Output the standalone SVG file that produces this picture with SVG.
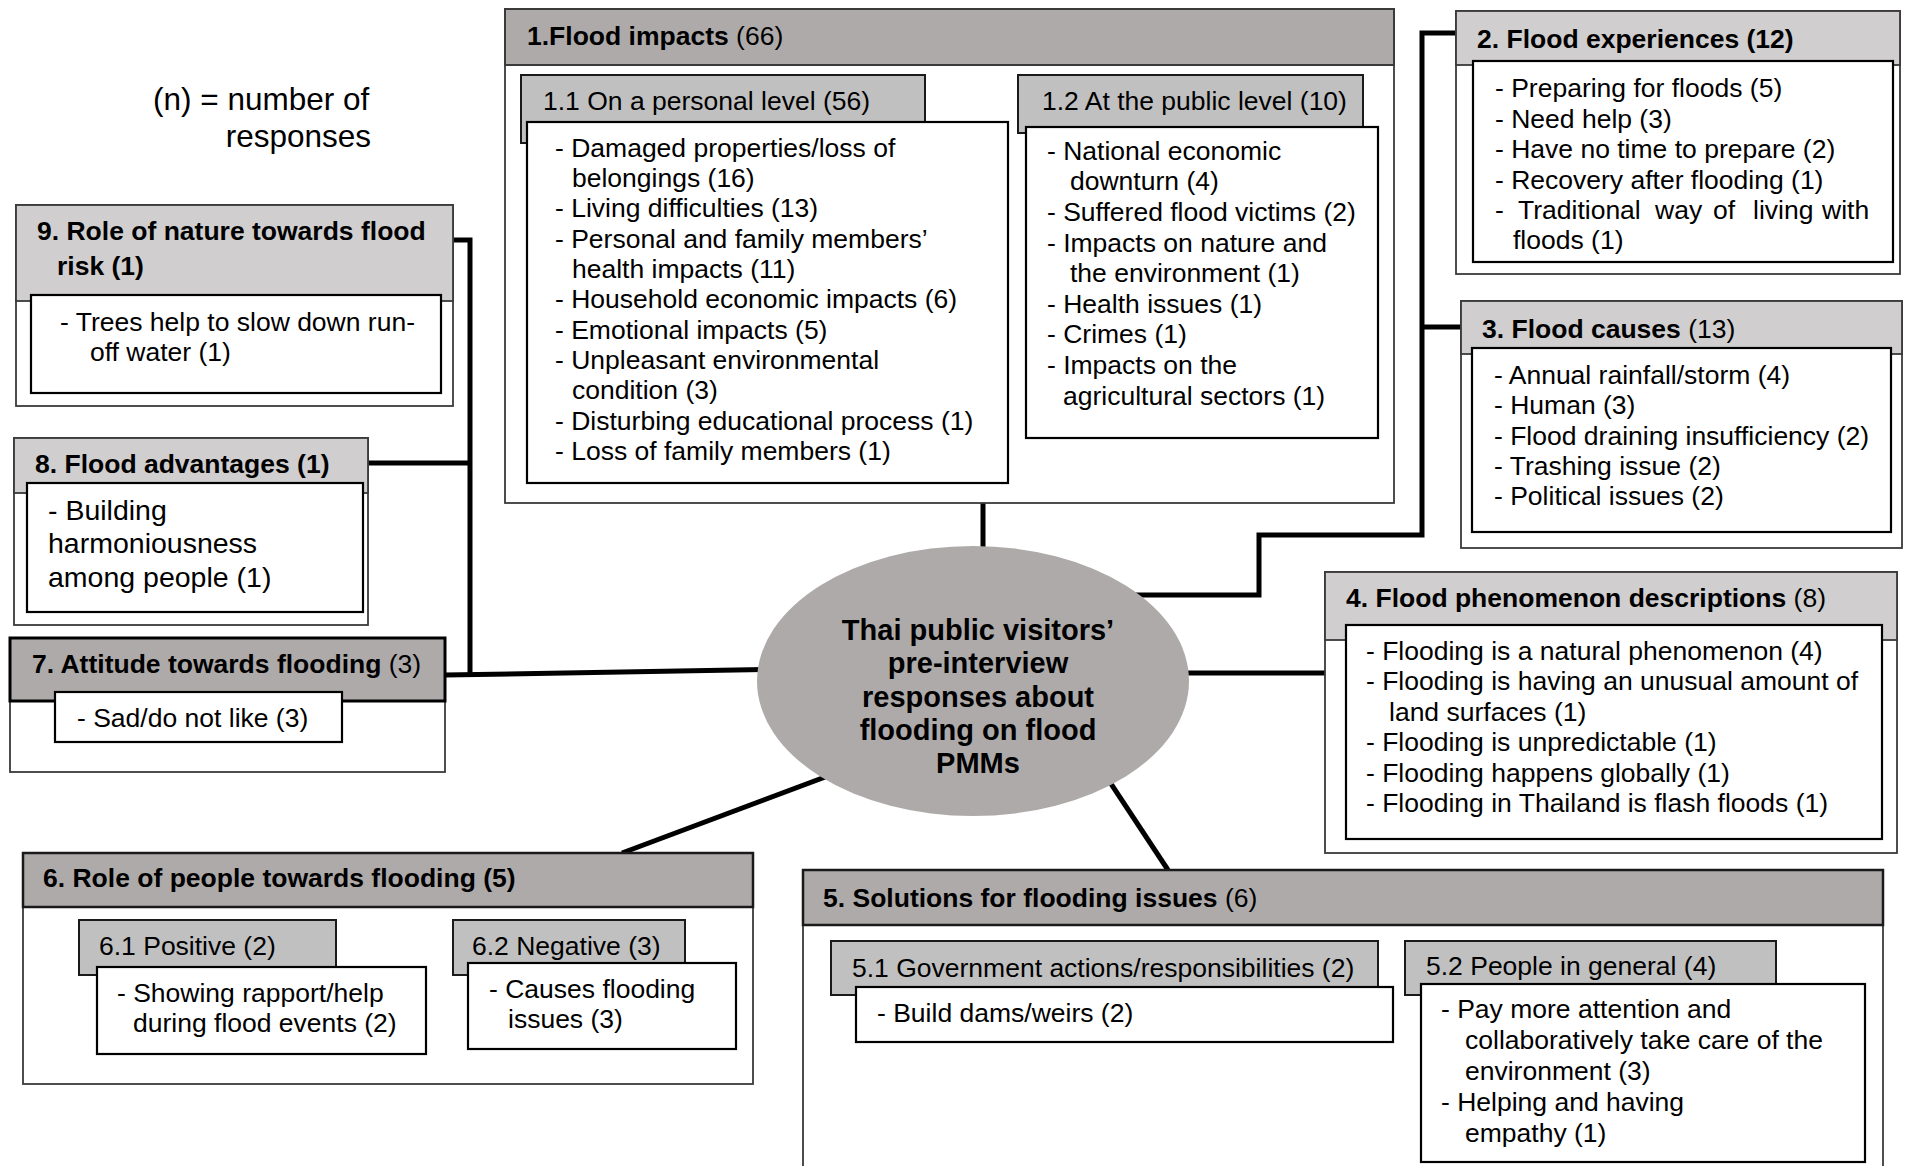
<svg xmlns="http://www.w3.org/2000/svg" width="1905" height="1166" viewBox="0 0 1905 1166">
  <style>
    .o { fill: #ffffff; stroke: #3a3a3a; stroke-width: 1.8; }
    .hd { fill: #aeaaaa; stroke: #1a1a1a; stroke-width: 2.5; }
    .hl { fill: #d0cece; stroke: #3a3a3a; stroke-width: 1.8; }
    .hs { fill: #c0c0c0; stroke: #1a1a1a; stroke-width: 2; }
    .w { fill: #ffffff; stroke: #000000; stroke-width: 2.2; }
    .t { font-family: "Liberation Sans", Arial, sans-serif; font-size: 26.5px; fill: #000000; }
    .b { font-weight: bold; }
    .big { font-size: 28.5px; }
    .leg { font-size: 31.5px; }
    .c { fill: none; stroke: #000000; stroke-width: 5; stroke-linejoin: miter; }
    .hub { fill: #aeaaaa; }
  </style>

  <rect x="0" y="0" width="1905" height="1166" fill="#ffffff"/>

  <!-- legend -->
  <g id="legend" class="t leg">
    <text x="153" y="110">(n) = number of</text>
    <text x="371" y="147" text-anchor="end">responses</text>
  </g>

  <!-- connectors -->
  <g id="connectors">
    <path class="c" d="M983 503 V600"/>
    <path class="c" d="M1100 595 H1259 V535 H1422 V33 H1456"/>
    <path class="c" d="M1422 327 H1461"/>
    <path class="c" d="M1100 673 H1325"/>
    <path class="c" d="M453 240 H470 V675"/>
    <path class="c" d="M368 463 H470"/>
    <path class="c" d="M445 675 L860 668"/>
    <path class="c" d="M622 853 L860 764"/>
    <path class="c" d="M1168 870 L1090 752"/>
  </g>

  <!-- 1. Flood impacts -->
  <g id="node-1">
    <rect class="o" x="505" y="9" width="889" height="494"/>
    <rect class="hd" x="505" y="9" width="889" height="56" style="stroke:#3a3a3a;stroke-width:2"/>
    <text class="t" x="527" y="45"><tspan class="b">1.Flood impacts</tspan> (66)</text>

    <rect class="hs" x="521" y="75" width="404" height="68"/>
    <text class="t" x="543" y="110">1.1 On a personal level (56)</text>
    <rect class="w" x="527" y="122" width="481" height="361"/>
    <g class="t">
      <text x="555" y="157">- Damaged properties/loss of</text>
      <text x="572" y="187">belongings (16)</text>
      <text x="555" y="217">- Living difficulties (13)</text>
      <text x="555" y="248">- Personal and family members’</text>
      <text x="572" y="278">health impacts (11)</text>
      <text x="555" y="308">- Household economic impacts (6)</text>
      <text x="555" y="339">- Emotional impacts (5)</text>
      <text x="555" y="369">- Unpleasant environmental</text>
      <text x="572" y="399">condition (3)</text>
      <text x="555" y="430">- Disturbing educational process (1)</text>
      <text x="555" y="460">- Loss of family members (1)</text>
    </g>

    <rect class="hs" x="1018" y="75" width="345" height="58"/>
    <text class="t" x="1042" y="110">1.2 At the public level (10)</text>
    <rect class="w" x="1026" y="127" width="352" height="311"/>
    <g class="t">
      <text x="1047" y="160">- National economic</text>
      <text x="1070" y="190">downturn (4)</text>
      <text x="1047" y="221">- Suffered flood victims (2)</text>
      <text x="1047" y="252">- Impacts on nature and</text>
      <text x="1070" y="282">the environment (1)</text>
      <text x="1047" y="313">- Health issues (1)</text>
      <text x="1047" y="343">- Crimes (1)</text>
      <text x="1047" y="374">- Impacts on the</text>
      <text x="1063" y="405">agricultural sectors (1)</text>
    </g>
  </g>

  <!-- 2. Flood experiences -->
  <g id="node-2">
    <rect class="o" x="1456" y="11" width="444" height="263"/>
    <rect class="hl" x="1456" y="11" width="444" height="54"/>
    <text class="t b" x="1477" y="48">2. Flood experiences (12)</text>
    <rect class="w" x="1473" y="61" width="420" height="201"/>
    <g class="t">
      <text x="1495" y="97">- Preparing for floods (5)</text>
      <text x="1495" y="128">- Need help (3)</text>
      <text x="1495" y="158">- Have no time to prepare (2)</text>
      <text x="1495" y="189">- Recovery after flooding (1)</text>
      <!-- justified line: words placed individually -->
      <text y="219"><tspan x="1495">-</tspan><tspan x="1518">Traditional</tspan><tspan x="1655">way</tspan><tspan x="1713">of</tspan><tspan x="1753">living</tspan><tspan x="1822">with</tspan></text>
      <text x="1513" y="249">floods (1)</text>
    </g>
  </g>

  <!-- 3. Flood causes -->
  <g id="node-3">
    <rect class="o" x="1461" y="301" width="441" height="247"/>
    <rect class="hl" x="1461" y="301" width="441" height="53"/>
    <text class="t" x="1482" y="338"><tspan class="b">3. Flood causes</tspan> (13)</text>
    <rect class="w" x="1472" y="348" width="419" height="184"/>
    <g class="t">
      <text x="1494" y="384">- Annual rainfall/storm (4)</text>
      <text x="1494" y="414">- Human (3)</text>
      <text x="1494" y="445">- Flood draining insufficiency (2)</text>
      <text x="1494" y="475">- Trashing issue (2)</text>
      <text x="1494" y="505">- Political issues (2)</text>
    </g>
  </g>

  <!-- 4. Flood phenomenon descriptions -->
  <g id="node-4">
    <rect class="o" x="1325" y="572" width="572" height="281"/>
    <rect class="hl" x="1325" y="572" width="572" height="68"/>
    <text class="t" x="1346" y="607"><tspan class="b">4. Flood phenomenon descriptions</tspan> (8)</text>
    <rect class="w" x="1346" y="625" width="536" height="214"/>
    <g class="t">
      <text x="1366" y="660">- Flooding is a natural phenomenon (4)</text>
      <text x="1366" y="690">- Flooding is having an unusual amount of</text>
      <text x="1389" y="721">land surfaces (1)</text>
      <text x="1366" y="751">- Flooding is unpredictable (1)</text>
      <text x="1366" y="782">- Flooding happens globally (1)</text>
      <text x="1366" y="812">- Flooding in Thailand is flash floods (1)</text>
    </g>
  </g>

  <!-- 5. Solutions for flooding issues -->
  <g id="node-5">
    <rect class="o" x="803" y="870" width="1080" height="320"/>
    <rect class="hd" x="803" y="870" width="1080" height="55"/>
    <text class="t" x="823" y="907"><tspan class="b">5. Solutions for flooding issues</tspan> (6)</text>

    <rect class="hs" x="831" y="941" width="547" height="54"/>
    <text class="t" x="852" y="977">5.1 Government actions/responsibilities (2)</text>
    <rect class="w" x="856" y="987" width="537" height="55"/>
    <text class="t" x="877" y="1022">- Build dams/weirs (2)</text>

    <rect class="hs" x="1405" y="941" width="371" height="54"/>
    <text class="t" x="1426" y="975">5.2 People in general (4)</text>
    <rect class="w" x="1421" y="984" width="444" height="178"/>
    <g class="t">
      <text x="1441" y="1018">- Pay more attention and</text>
      <text x="1465" y="1049">collaboratively take care of the</text>
      <text x="1465" y="1080">environment (3)</text>
      <text x="1441" y="1111">- Helping and having</text>
      <text x="1465" y="1142">empathy (1)</text>
    </g>
  </g>

  <!-- 6. Role of people towards flooding -->
  <g id="node-6">
    <rect class="o" x="23" y="853" width="730" height="231"/>
    <rect class="hd" x="23" y="853" width="730" height="54"/>
    <text class="t b" x="43" y="887">6. Role of people towards flooding (5)</text>

    <rect class="hs" x="79" y="920" width="257" height="55"/>
    <text class="t" x="99" y="955">6.1 Positive (2)</text>
    <rect class="w" x="97" y="967" width="329" height="87"/>
    <text class="t" x="117" y="1002">- Showing rapport/help</text>
    <text class="t" x="133" y="1032">during flood events (2)</text>

    <rect class="hs" x="453" y="920" width="232" height="55"/>
    <text class="t" x="472" y="955">6.2 Negative (3)</text>
    <rect class="w" x="468" y="963" width="268" height="86"/>
    <text class="t" x="489" y="998">- Causes flooding</text>
    <text class="t" x="508" y="1028">issues (3)</text>
  </g>

  <!-- 7. Attitude towards flooding -->
  <g id="node-7">
    <rect class="o" x="10" y="638" width="435" height="134"/>
    <rect class="hd" x="10" y="638" width="435" height="63" style="stroke:#000;stroke-width:3"/>
    <text class="t" x="32" y="673"><tspan class="b">7. Attitude towards flooding</tspan> (3)</text>
    <rect class="w" x="55" y="692" width="287" height="50"/>
    <text class="t" x="77" y="727">- Sad/do not like (3)</text>
  </g>

  <!-- 8. Flood advantages -->
  <g id="node-8">
    <rect class="o" x="14" y="438" width="354" height="187"/>
    <rect class="hl" x="14" y="438" width="354" height="55"/>
    <text class="t b" x="35" y="473">8. Flood advantages (1)</text>
    <rect class="w" x="27" y="483" width="336" height="129"/>
    <g class="t big">
      <text x="48" y="520">- Building</text>
      <text x="48" y="553">harmoniousness</text>
      <text x="48" y="587">among people (1)</text>
    </g>
  </g>

  <!-- 9. Role of nature towards flood risk -->
  <g id="node-9">
    <rect class="o" x="16" y="205" width="437" height="201"/>
    <rect class="hl" x="16" y="205" width="437" height="96"/>
    <text class="t b" x="37" y="240">9. Role of nature towards flood</text>
    <text class="t b" x="57" y="275">risk (1)</text>
    <rect class="w" x="31" y="295" width="410" height="98"/>
    <text class="t" x="60" y="331">- Trees help to slow down run-</text>
    <text class="t" x="90" y="361">off water (1)</text>
  </g>

  <!-- central topic -->
  <g id="hub">
    <ellipse class="hub" cx="973" cy="681" rx="216" ry="135"/>
    <g class="t b" text-anchor="middle" style="font-size:29px">
      <text x="978" y="640">Thai public visitors’</text>
      <text x="978" y="673">pre-interview</text>
      <text x="978" y="707">responses about</text>
      <text x="978" y="740">flooding on flood</text>
      <text x="978" y="773">PMMs</text>
    </g>
  </g>
</svg>
